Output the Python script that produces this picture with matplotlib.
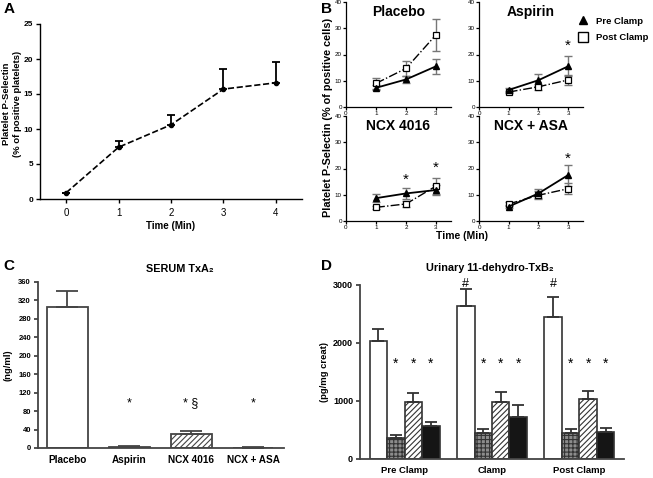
import numpy as np
import matplotlib
matplotlib.use('Agg')
import matplotlib.pyplot as plt
from matplotlib.lines import Line2D

plt.rcParams['font.family'] = ['Liberation Sans', 'DejaVu Sans']
plt.rcParams['hatch.linewidth'] = 0.8

# ---- data ----
a_time = [0, 1, 2, 3, 4]
a_mean = [0.9, 7.4, 10.6, 15.7, 16.6]
a_err = [0.0, 0.9, 1.4, 2.9, 3.0]

b_time = [1, 2, 3]
b_groups = ['Placebo', 'Aspirin', 'NCX 4016', 'NCX + ASA']
b_pre = [[7.3, 10.5, 15.5], [6.5, 10.2, 15.5], [8.7, 10.5, 11.8], [5.5, 10.5, 17.5]]
b_pre_err = [[1.0, 1.5, 2.9], [0.8, 2.3, 3.8], [1.5, 2.0, 1.8], [0.7, 1.6, 4.0]]
b_post = [[9.0, 14.7, 27.5], [5.7, 7.7, 10.3], [5.2, 6.5, 13.3], [6.5, 9.8, 12.3]]
b_post_err = [[2.0, 2.8, 6.1], [0.5, 1.2, 2.0], [0.6, 1.0, 3.2], [0.8, 1.5, 2.0]]
b_stars = [[], [(3, 23.5)], [(2, 15.6), (3, 20.2)], [(3, 23.6)]]

c_groups = ['Placebo', 'Aspirin', 'NCX 4016', 'NCX + ASA']
c_vals = [305, 3, 30, 1]
c_err = [36, 0.5, 6, 0.3]
c_marks = ['', '*', '* \u00a7', '*']
c_mark_y = 97

d_phases = ['Pre Clamp', 'Clamp', 'Post Clamp']
d_placebo = [2030, 2630, 2450]
d_placebo_err = [210, 300, 340]
d_aspirin = [370, 440, 450]
d_aspirin_err = [40, 70, 70]
d_ncx = [980, 990, 1030]
d_ncx_err = [150, 160, 140]
d_combo = [570, 730, 460]
d_combo_err = [60, 200, 70]
d_star_y = 1650
d_hash_y = 3020

W, H = 653, 478
fig = plt.figure(figsize=(W / 100, H / 100), dpi=100)


def box(l, t, r, b):
    return [l / W, 1 - b / H, (r - l) / W, (b - t) / H]


def style(ax, color='black', lw=1.0):
    for s in ['top', 'right']:
        ax.spines[s].set_visible(False)
    for s in ['left', 'bottom']:
        ax.spines[s].set_color(color)
        ax.spines[s].set_linewidth(lw)
    ax.tick_params(direction='out', length=3, width=lw, color=color)


# ---- panel A ----
ax = fig.add_axes(box(40, 24, 302, 199))
style(ax)
ax.errorbar(a_time, a_mean, yerr=[np.zeros(len(a_err)), a_err], fmt='o', color='black',
            ms=3, capsize=3, elinewidth=1.3, capthick=1.3)
ax.plot(a_time, a_mean, '--', color='black', lw=1.2)
ax.set_xlim(-0.5, 4.5)
ax.set_ylim(0, 25)
ax.set_xticks(a_time)
ax.set_yticks([0, 5, 10, 15, 20, 25])
ax.tick_params(axis='x', labelsize=7)
ax.tick_params(axis='y', labelsize=6, pad=2)
for lab in ax.get_yticklabels():
    lab.set_fontweight('bold')
ax.set_xlabel('Time (Min)', fontsize=7, fontweight='bold', labelpad=2)
fig.text(12 / W, 1 - 104 / H, 'Platelet P-Selectin\n(% of positive platelets)',
         rotation=90, ha='center', va='center', multialignment='center',
         fontsize=6.8, fontweight='bold', linespacing=1.15)
fig.text(4 / W, 1 - 2 / H, 'A', fontsize=11, fontweight='bold', va='top')

# ---- panel B ----
b_boxes = [box(346, 2, 451, 107), box(479, 2, 583, 107),
           box(346, 116, 451, 221), box(479, 116, 583, 221)]
for i, g in enumerate(b_groups):
    ax = fig.add_axes(b_boxes[i])
    style(ax, lw=0.9)
    ax.errorbar(b_time, b_post[i], yerr=b_post_err[i], fmt='none', ecolor='#777777',
                capsize=3, elinewidth=1.0, capthick=1.0)
    ax.errorbar(b_time, b_pre[i], yerr=b_pre_err[i], fmt='none', ecolor='#777777',
                capsize=3, elinewidth=1.0, capthick=1.0)
    ax.plot(b_time, b_post[i], '-.', color='black', lw=1.0, marker='s', ms=5,
            mfc='white', mec='black', mew=0.9)
    ax.plot(b_time, b_pre[i], '-', color='black', lw=1.3, marker='^', ms=4.5)
    for sx, sy in b_stars[i]:
        ax.text(sx, sy, '*', ha='center', va='center', fontsize=11)
    ax.set_xlim(0, 3.5)
    ax.set_ylim(0, 40)
    ax.set_xticks([0, 1, 2, 3])
    ax.set_yticks([0, 10, 20, 30, 40])
    ax.tick_params(labelsize=4.5, length=2, pad=1)
    ax.text(0.5, 0.97, g, transform=ax.transAxes, ha='center', va='top',
            fontsize=10, fontweight='bold')
fig.text(321 / W, 1 - 2 / H, 'B', fontsize=11, fontweight='bold', va='top')
fig.text(328 / W, 1 - 117 / H, 'Platelet P-Selectin (% of positive cells)', rotation=90,
         ha='center', va='center', fontsize=7.8, fontweight='bold')
fig.text(462 / W, 1 - 236 / H, 'Time (Min)', ha='center', va='center',
         fontsize=7.5, fontweight='bold')
handles = [Line2D([], [], marker='^', color='black', ls='none', ms=6),
           Line2D([], [], marker='s', color='black', mfc='white', ls='none', ms=7)]
fig.legend(handles, ['Pre Clamp', 'Post Clamp'], loc='upper left',
           bbox_to_anchor=(574 / W, 1 - 13 / H), frameon=False, handlelength=1.0,
           handletextpad=0.9, labelspacing=0.75, borderaxespad=0,
           prop={'size': 6.8, 'weight': 'bold'})

# ---- panel C ----
ax = fig.add_axes(box(38, 282, 284, 448))
style(ax, color='#444444', lw=1.3)
cx = np.arange(len(c_groups))
hatches = ['', '', '//////', '']
for x, v, e, h in zip(cx, c_vals, c_err, hatches):
    ax.bar(x, v, width=0.66, color='white', edgecolor='#444444', lw=1.3, hatch=h)
    ax.errorbar(x, v, yerr=[[0], [e]], fmt='none', ecolor='#444444', capsize=8,
                elinewidth=1.3, capthick=1.3)
for x, m in zip(cx, c_marks):
    ax.text(x, c_mark_y, m, ha='center', va='center', fontsize=9)
ax.set_xlim(-0.47, 3.5)
ax.set_ylim(0, 360)
ax.set_yticks(np.arange(0, 361, 40))
ax.set_xticks(cx)
ax.set_xticklabels(c_groups, fontsize=7.2, fontweight='bold')
ax.tick_params(axis='x', length=0, pad=5)
ax.tick_params(axis='y', labelsize=5.5, pad=2)
for lab in ax.get_yticklabels():
    lab.set_fontweight('bold')
ax.set_ylabel('(ng/ml)', fontsize=6.8, fontweight='bold', labelpad=4)
fig.text(180 / W, 1 - 269 / H, 'SERUM TxA\u2082', ha='center', va='center',
         fontsize=7.8, fontweight='bold')
fig.text(3 / W, 1 - 259 / H, 'C', fontsize=11, fontweight='bold', va='top')

# ---- panel D ----
ax = fig.add_axes(box(360, 285, 624, 459))
style(ax, color='#444444', lw=1.3)
dx = np.arange(len(d_phases))
series = [(d_placebo, d_placebo_err, 'white', ''),
          (d_aspirin, d_aspirin_err, '#8c8c8c', '++++'),
          (d_ncx, d_ncx_err, 'white', '//////'),
          (d_combo, d_combo_err, '#151515', '')]
bw = 0.2
for k, (vals, errs, fc, h) in enumerate(series):
    pos = dx + (k - 1.5) * bw
    ax.bar(pos, vals, width=bw, color=fc, edgecolor='#333333', lw=1.2, hatch=h)
    ax.errorbar(pos, vals, yerr=[np.zeros(len(errs)), errs], fmt='none',
                ecolor='#333333', capsize=4, elinewidth=1.3, capthick=1.3)
    if k > 0:
        for p in pos:
            ax.text(p, d_star_y, '*', ha='center', va='center', fontsize=10)
for p in dx[1:] - 1.5 * bw:
    ax.text(p, d_hash_y, '#', ha='center', va='center', fontsize=9, clip_on=False)
ax.set_xlim(-0.51, 2.51)
ax.set_ylim(0, 3000)
ax.set_yticks([0, 1000, 2000, 3000])
ax.set_xticks(dx)
ax.set_xticklabels(d_phases, fontsize=6.8, fontweight='bold')
ax.tick_params(axis='x', length=0, pad=5)
ax.tick_params(axis='y', labelsize=6.5, pad=2)
for lab in ax.get_yticklabels():
    lab.set_fontweight('bold')
ax.set_ylabel('(pg/mg creat)', fontsize=6.8, fontweight='bold', labelpad=3)
fig.text(490 / W, 1 - 268 / H, 'Urinary 11-dehydro-TxB\u2082', ha='center', va='center',
         fontsize=7.8, fontweight='bold')
fig.text(321 / W, 1 - 259 / H, 'D', fontsize=11, fontweight='bold', va='top')

fig.savefig('out.png', dpi=100)
